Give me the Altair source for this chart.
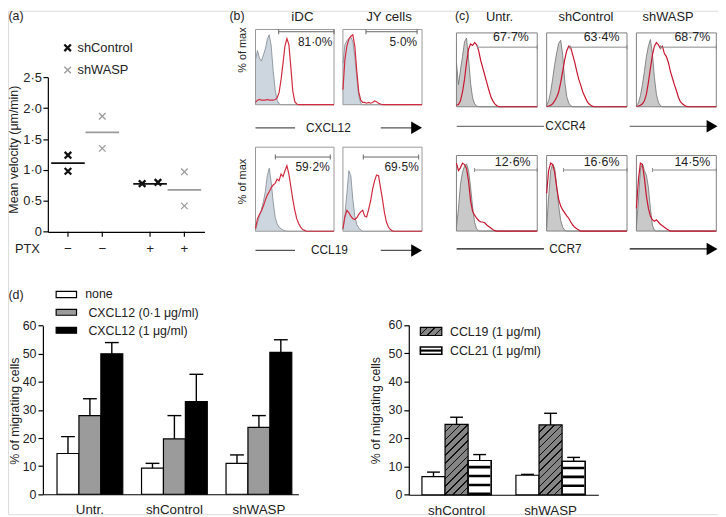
import altair as alt
import pandas as pd

# ------------------------------------------------------------------ data
# (a) mean velocity (um/min) per donor
vel_ptx = ["−", "−", "−", "−", "+", "+", "+", "+"]
vel_line = ["shControl", "shControl", "shWASP", "shWASP",
            "shControl", "shControl", "shWASP", "shWASP"]
vel_rep = [1, 2, 1, 2, 1, 2, 1, 2]
vel_value = [1.24, 0.98, 1.87, 1.35, 0.78, 0.80, 0.97, 0.42]
mean_ptx = ["−", "−", "+", "+"]
mean_line = ["shControl", "shWASP", "shControl", "shWASP"]
mean_value = [1.11, 1.61, 0.775, 0.68]

# (b) flow histograms, fraction of max over 41 channels (isotype, stain)
b_idc_cxcl12_iso = [0.6, 0.72, 0.62, 0.58, 0.66, 0.74, 0.87, 0.93, 0.78, 0.45, 0.2, 0.06, 0.01]
b_idc_cxcl12_stain = [0.03, 0.06, 0.07, 0.06, 0.06, 0.06, 0.07, 0.06, 0.06, 0.06, 0.07, 0.09,
                      0.16, 0.33, 0.55, 0.78, 0.88, 0.8, 0.5, 0.18, 0.04, 0.01]
b_jy_cxcl12_iso = [0.55, 0.8, 0.85, 0.88, 0.9, 0.84, 0.65, 0.36, 0.12, 0.02]
b_jy_cxcl12_stain = [0.2, 0.6, 0.78, 0.87, 0.91, 0.93, 0.78, 0.45, 0.17, 0.06, 0.03, 0.03,
                     0.02, 0.03, 0.02, 0.03, 0.05, 0.04, 0.02, 0.01]
b_idc_ccl19_iso = [0.02, 0.1, 0.18, 0.26, 0.35, 0.47, 0.66, 0.75, 0.58, 0.35, 0.17, 0.09,
                   0.05, 0.03, 0.015, 0.005]
b_idc_ccl19_stain = [0.03, 0.15, 0.2, 0.24, 0.3, 0.37, 0.43, 0.47, 0.52, 0.55, 0.57, 0.62,
                     0.6, 0.68, 0.65, 0.72, 0.78, 0.68, 0.53, 0.38, 0.25, 0.15, 0.09, 0.05,
                     0.02, 0.01]
b_jy_ccl19_iso = [0.02, 0.2, 0.45, 0.72, 0.66, 0.38, 0.18, 0.08, 0.04, 0.015]
b_jy_ccl19_stain = [0.03, 0.17, 0.25, 0.22, 0.18, 0.15, 0.14, 0.16, 0.2, 0.23, 0.25, 0.18,
                    0.17, 0.26, 0.36, 0.5, 0.6, 0.67, 0.66, 0.52, 0.38, 0.22, 0.11, 0.05,
                    0.02, 0.005]
b_pct = ["81·0%", "5·0%", "59·2%", "69·5%"]
b_gate_lo = [11.8, 11.65, 10.1, 10.3]
b_gate_hi = [40, 37.5, 38.1, 38.3]

# (c) flow histograms
c_untr_cxcr4_iso = [0.6, 0.3, 0.5, 0.68, 0.88, 0.93, 0.65, 0.32, 0.12, 0.04, 0.01]
c_untr_cxcr4_stain = [0.02, 0.03, 0.08, 0.2, 0.37, 0.6, 0.78, 0.85, 0.83, 0.87, 0.84, 0.76,
                      0.63, 0.53, 0.43, 0.33, 0.23, 0.14, 0.08, 0.04, 0.015]
c_shc_cxcr4_iso = [0.02, 0.08, 0.2, 0.38, 0.57, 0.73, 0.86, 0.9, 0.7, 0.35, 0.14, 0.05, 0.015]
c_shc_cxcr4_stain = [0.005, 0.01, 0.02, 0.04, 0.08, 0.13, 0.2, 0.33, 0.48, 0.64, 0.76, 0.82,
                     0.8, 0.7, 0.6, 0.48, 0.37, 0.29, 0.2, 0.14, 0.08, 0.04, 0.02, 0.005]
c_shw_cxcr4_iso = [0.02, 0.05, 0.15, 0.3, 0.48, 0.68, 0.82, 0.91, 0.72, 0.4, 0.17, 0.06, 0.015]
c_shw_cxcr4_stain = [0.005, 0.01, 0.02, 0.04, 0.08, 0.17, 0.33, 0.52, 0.7, 0.82, 0.87, 0.84,
                     0.79, 0.82, 0.72, 0.68, 0.6, 0.48, 0.39, 0.3, 0.22, 0.13, 0.07, 0.04,
                     0.02, 0.005]
c_untr_ccr7_iso = [0.05, 0.3, 0.62, 0.78, 0.86, 0.89, 0.8, 0.58, 0.32, 0.11, 0.03]
c_untr_ccr7_stain = [0.9, 0.8, 0.84, 0.9, 0.88, 0.83, 0.66, 0.4, 0.26, 0.21, 0.17, 0.14,
                     0.12, 0.12, 0.11, 0.08, 0.06, 0.04, 0.02, 0.005]
c_shc_ccr7_iso = [0.05, 0.45, 0.8, 0.89, 0.83, 0.6, 0.33, 0.14, 0.05, 0.01]
c_shc_ccr7_stain = [0.5, 0.8, 0.9, 0.88, 0.78, 0.58, 0.42, 0.33, 0.28, 0.24, 0.2, 0.17,
                    0.12, 0.08, 0.05, 0.03, 0.015]
c_shw_ccr7_iso = [0.05, 0.4, 0.82, 0.89, 0.8, 0.74, 0.58, 0.3, 0.08, 0.01]
c_shw_ccr7_stain = [0.3, 0.68, 0.9, 0.88, 0.7, 0.46, 0.3, 0.2, 0.15, 0.13, 0.15, 0.12,
                    0.09, 0.07, 0.05, 0.03, 0.015]
c_pct = ["67·7%", "63·4%", "68·7%", "12·6%", "16·6%", "14·5%"]
c_gate_lo = [10.5, 11.6, 12.1, 8.9, 8.4, 8.0]
c_gate_hi = [40, 40, 40, 40, 40, 40]

# (d) % of migrating cells
mig_group = ["Untr.", "Untr.", "Untr.", "shControl", "shControl", "shControl",
             "shWASP", "shWASP", "shWASP"]
mig_series = ["none", "CXCL12 (0·1 μg/ml)", "CXCL12 (1 μg/ml)"] * 3
mig_value = [14.5, 28.0, 50.0, 9.3, 19.7, 33.0, 11.0, 23.8, 50.5]
mig_upper = [20.5, 34.0, 54.0, 11.0, 28.0, 42.7, 14.0, 28.0, 55.0]
ccl_group = ["shControl"] * 3 + ["shWASP"] * 3
ccl_series = ["none", "CCL19 (1 μg/ml)", "CCL21 (1 μg/ml)"] * 2
ccl_value = [6.4, 24.9, 12.1, 6.9, 24.7, 11.8]
ccl_upper = [8.0, 27.4, 14.2, 7.2, 28.8, 13.2]

# ------------------------------------------------------------------ layout helpers
W, H = 718, 509
FONT = "Liberation Sans"
TXT = "#222222"


def px(x):
    return x - 8


def py(y):
    return (y - 4) * 0.992


def pad(v, n=41):
    return list(v) + [0.0] * (n - len(v))


def one():
    return alt.Data(values=[{"k": 0}])


def text_at(s, x, y, size=12.5, align="center", baseline="middle", angle=None, color=TXT):
    kw = dict(text=s, fontSize=size, align=align, baseline=baseline, color=color, font=FONT)
    if angle is not None:
        kw["angle"] = angle
    return alt.Chart(one()).mark_text(**kw).encode(x=alt.value(x), y=alt.value(y))


def hline(x1, x2, y, color="#555555", width=1.3):
    return alt.Chart(one()).mark_rule(color=color, strokeWidth=width).encode(
        x=alt.value(x1), x2=alt.value(x2), y=alt.value(y))


def rect_at(x1, x2, y1, y2, fill, stroke="black", sw=1.2):
    return alt.Chart(one()).mark_rect(fill=fill, stroke=stroke, strokeWidth=sw).encode(
        x=alt.value(x1), x2=alt.value(x2), y=alt.value(y1), y2=alt.value(y2))


def tri_at(x, y, size=160):
    return alt.Chart(one()).mark_point(shape="triangle-right", filled=True, size=size,
                                       color="black", opacity=1).encode(
        x=alt.value(x), y=alt.value(y))


def hatch_gradient(w, h, n, bg, fg, lw):
    r = h / w
    a = (1 + r) / (1 + r * r)
    b = a * r
    d = lw * 0.72 / (w + h)
    stops = []
    for k in range(n + 1):
        c = k / n
        lo = round(max(0.0, c - d), 4)
        hi = round(min(1.0, c + d), 4)
        stops += [alt.GradientStop(color=bg, offset=lo), alt.GradientStop(color=fg, offset=lo),
                  alt.GradientStop(color=fg, offset=hi), alt.GradientStop(color=bg, offset=hi)]
    return alt.LinearGradient(gradient="linear", stops=stops, x1=0, y1=0,
                              x2=round(a, 4), y2=round(b, 4))


layers = []

# ------------------------------------------------------------------ panel (a)
line_dom = ["shControl", "shWASP"]
A_X0, A_X1 = px(48.3), px(206.7)
A_Y0, A_Y1 = py(229.3), py(71.7)
A_PI, A_PO = 0.164, 0.036
XSHAPE = "M-1,-1L1,1M1,-1L-1,1"
# quarter of a PTX band = distance from the band centre to a cell-line slot centre
a_step = (A_X1 - A_X0) / (2 - A_PI + 2 * A_PO)
a_quarter = a_step * (1 - A_PI) / 4
JIT = 8

vel_df = pd.DataFrame({"ptx": vel_ptx, "line": vel_line, "rep": vel_rep, "v": vel_value})
mean_df = pd.DataFrame({"ptx": mean_ptx, "line": mean_line, "v": mean_value})

a_xscale = alt.Scale(domain=["−", "+"], range=[A_X0, A_X1], paddingInner=A_PI, paddingOuter=A_PO)
a_yscale = alt.Scale(domain=[0, 2.5], range=[A_Y0, A_Y1], nice=False, zero=False)
a_xaxis = alt.Axis(orient="bottom", offset=A_Y0 - H, labels=False, ticks=False, title=None,
                   domainColor="black", domainWidth=1.2, grid=False)
a_yaxis = alt.Axis(orient="left", offset=-A_X0, values=[0, 0.5, 1, 1.5, 2, 2.5],
                   labelExpr="datum.value == 0 ? '0' : replace(format(datum.value, '.1f'), '.', '·')",
                   tickSize=5, tickColor="black", tickWidth=1.2, domainColor="black",
                   domainWidth=1.2, labelPadding=1.5, labelFontSize=13, labelColor=TXT,
                   labelFont=FONT, grid=False, title="Mean velocity (μm/min)",
                   titleFontSize=12.5, titleFontWeight="normal", titleColor=TXT, titleFont=FONT,
                   titleAngle=270, titleX=6 - A_X0, titleY=py(145), titleAlign="center",
                   titleBaseline="middle")
ax = alt.X("ptx:N", scale=a_xscale, axis=a_xaxis)
axo = alt.XOffset("line:N", scale=alt.Scale(domain=line_dom))
ay = alt.Y("v:Q", scale=a_yscale, axis=a_yaxis)
a_color = alt.Color("line:N", scale=alt.Scale(domain=line_dom, range=["#111111", "#9a9a9a"]),
                    legend=None)
a_sw = alt.StrokeWidth("line:N", scale=alt.Scale(domain=line_dom, range=[2.3, 1.3]), legend=None)

a_means = alt.Chart(mean_df).mark_tick(size=34, thickness=1.8, opacity=1).encode(
    x=ax, xOffset=axo, y=ay, color=a_color)
a_pts = alt.Chart(vel_df).transform_filter(
    "!(datum.line == 'shControl' && datum.ptx == '+')").mark_point(
    shape=XSHAPE, size=44, filled=False, opacity=1).encode(
    x=ax, xOffset=axo, y=ay, color=a_color, strokeWidth=a_sw)
# the two overlapping PTX-treated shControl donors are spread sideways (plot jitter)
a_pts1 = alt.Chart(vel_df).transform_filter(
    "datum.line == 'shControl' && datum.ptx == '+' && datum.rep == 1").mark_point(
    shape=XSHAPE, size=44, filled=False, opacity=1, xOffset=-a_quarter - JIT).encode(
    x=ax, y=ay, color=a_color, strokeWidth=a_sw)
a_pts2 = alt.Chart(vel_df).transform_filter(
    "datum.line == 'shControl' && datum.ptx == '+' && datum.rep == 2").mark_point(
    shape=XSHAPE, size=44, filled=False, opacity=1, xOffset=-a_quarter + JIT).encode(
    x=ax, y=ay, color=a_color, strokeWidth=a_sw)
a_ticks = alt.Chart(mean_df).mark_rule(color="black", strokeWidth=1.2).encode(
    x=ax, xOffset=axo, y=alt.value(A_Y0), y2=alt.value(A_Y0 + 5))
a_ptx = alt.Chart(mean_df).mark_text(fontSize=13.5, font=FONT, color=TXT).encode(
    x=ax, xOffset=axo, y=alt.value(py(246.5)), text="ptx:N")
layers.append(alt.layer(a_means, a_pts, a_pts1, a_pts2, a_ticks, a_ptx))

leg_df = pd.DataFrame({"line": line_dom})
leg_y = alt.Y("line:N", scale=alt.Scale(type="point", domain=line_dom,
                                        range=[py(41.7), py(64.3)], padding=0), axis=None)
a_leg_pts = alt.Chart(leg_df).mark_point(shape=XSHAPE, size=44, filled=False, opacity=1).encode(
    x=alt.value(px(68.3)), y=leg_y, color=a_color, strokeWidth=a_sw)
a_leg_txt = alt.Chart(leg_df).mark_text(align="left", fontSize=13, font=FONT, color=TXT).encode(
    x=alt.value(px(78.3)), y=leg_y, text="line:N")
layers.append(alt.layer(a_leg_pts, a_leg_txt))
layers.append(text_at("PTX", px(15), py(246.5), 13, align="left"))
layers.append(text_at("(a)", 0.5, py(13.3), 12.5, align="left", baseline="alphabetic"))

# ------------------------------------------------------------------ histograms (b), (c)
B_STYLE = dict(fill="#cdd6de", edge="#7d8790", red="#d22b3e", box="#9a9a9a", gate="#666666",
               pct_size=12, cap=5)
C_STYLE = dict(fill="#c9c9c9", edge="#6e6e6e", red="#c8152f", box="#808080", gate="#8a8a8a",
               pct_size=12.5, cap=4)


def histogram(iso, stain, box, gate_lo, gate_hi, gate_y, pct, pct_x, pct_y, st):
    L, R, T, B = box
    df = pd.DataFrame({"ch": list(range(41)), "iso": pad(iso), "stain": pad(stain)})
    xs = alt.Scale(domain=[0, 40], range=[px(L), px(R)], nice=False, zero=False)
    ys = alt.Scale(domain=[0, 1], range=[py(B), py(T)], nice=False, zero=False)

    def X(f):
        return alt.X(f, scale=xs, axis=None)

    def Y(f):
        return alt.Y(f, scale=ys, axis=None)

    base = alt.Chart(df)
    area = base.mark_area(fill=st["fill"], interpolate="linear").encode(x=X("ch:Q"), y=Y("iso:Q"))
    edge = base.mark_line(color=st["edge"], strokeWidth=0.8).encode(x=X("ch:Q"), y=Y("iso:Q"))
    red = base.mark_line(color=st["red"], strokeWidth=1.2).encode(x=X("ch:Q"), y=Y("stain:Q"))
    frame = alt.Chart(pd.DataFrame({"x0": [0], "x1": [40], "y0": [0], "y1": [1]})).mark_rect(
        fillOpacity=0, stroke=st["box"], strokeWidth=1).encode(
        x=X("x0:Q"), x2="x1:Q", y=Y("y0:Q"), y2="y1:Q")
    gdf = pd.DataFrame({"lo": [gate_lo], "hi": [gate_hi], "g": [gate_y], "pct": [pct],
                        "tx": [pct_x], "ty": [pct_y]})
    gate = alt.Chart(gdf).mark_rule(color=st["gate"], strokeWidth=1).encode(
        x=X("lo:Q"), x2="hi:Q", y=Y("g:Q"))
    caps = alt.Chart(gdf).transform_fold(["lo", "hi"], as_=["end", "pos"]).mark_tick(
        orient="vertical", size=st["cap"], thickness=1, color=st["gate"], opacity=1).encode(
        x=X("pos:Q"), y=Y("g:Q"))
    label = alt.Chart(gdf).mark_text(align="right", baseline="middle", fontSize=st["pct_size"],
                                     font=FONT, color=TXT).encode(
        x=X("tx:Q"), y=Y("ty:Q"), text="pct:N")
    return alt.layer(area, edge, frame, red, gate, caps, label)


b_boxes = [(258.3, 337.7, 23, 99.7), (346.7, 426.7, 23, 99.7),
           (258.3, 337.7, 143, 228.7), (346.7, 426.7, 143, 228.7)]
b_iso = [b_idc_cxcl12_iso, b_jy_cxcl12_iso, b_idc_ccl19_iso, b_jy_ccl19_iso]
b_stain = [b_idc_cxcl12_stain, b_jy_cxcl12_stain, b_idc_ccl19_stain, b_jy_ccl19_stain]
b_gate_y = [0.97, 0.97, 0.883, 0.883]
b_pct_x = [39.1, 37.5, 37.8, 38.3]
b_pct_y = [0.827, 0.827, 0.758, 0.758]
for i in range(4):
    layers.append(histogram(b_iso[i], b_stain[i], b_boxes[i], b_gate_lo[i], b_gate_hi[i],
                            b_gate_y[i], b_pct[i], b_pct_x[i], b_pct_y[i], B_STYLE))

c_boxes = [(461.5, 543.2, 26.5, 101.8), (552.7, 634, 26.5, 101.8), (643.5, 724.3, 26.5, 101.8),
           (461.5, 543.2, 151.5, 228.5), (552.7, 634, 151.5, 228.5), (643.5, 724.3, 151.5, 228.5)]
c_iso = [c_untr_cxcr4_iso, c_shc_cxcr4_iso, c_shw_cxcr4_iso,
         c_untr_ccr7_iso, c_shc_ccr7_iso, c_shw_ccr7_iso]
c_stain = [c_untr_cxcr4_stain, c_shc_cxcr4_stain, c_shw_cxcr4_stain,
           c_untr_ccr7_stain, c_shc_ccr7_stain, c_shw_ccr7_stain]
c_gate_y = [0.807] * 3 + [0.808] * 3
c_pct_x = [35.8, 36.2, 36.9, 36.7, 36.2, 36.9]
c_pct_y = [0.95] * 3 + [0.916] * 3
for i in range(6):
    layers.append(histogram(c_iso[i], c_stain[i], c_boxes[i], c_gate_lo[i], c_gate_hi[i],
                            c_gate_y[i], c_pct[i], c_pct_x[i], c_pct_y[i], C_STYLE))

# headers of (b) and (c)
layers += [
    text_at("(b)", px(232), py(13.3), 12.5, align="left", baseline="alphabetic"),
    text_at("iDC", px(305.8), py(14), 13.5, baseline="alphabetic"),
    text_at("JY cells", px(393.3), py(14), 13.5, baseline="alphabetic"),
    text_at("(c)", px(460), py(13.3), 12.5, align="left", baseline="alphabetic"),
    text_at("Untr.", px(505), py(14), 13, baseline="alphabetic"),
    text_at("shControl", px(592.5), py(14), 13, baseline="alphabetic"),
    text_at("shWASP", px(675.5), py(14), 13, baseline="alphabetic"),
    text_at("% of max", px(246), py(44), 11, angle=270),
    text_at("% of max", px(246), py(178), 11, angle=270),
]


def arrow_row(label, lx0, lx1, tx, rx0, rx1, tip, y, lc):
    return [hline(px(lx0), px(lx1), py(y), lc, 1.3),
            text_at(label, px(tx), py(y), 12),
            hline(px(rx0), px(rx1), py(y), lc, 1.3),
            tri_at(px(tip) - 5.5, py(y))]


layers += arrow_row("CXCL12", 258.3, 298.3, 332, 385, 418, 426.7, 123.3, "#555555")
layers += arrow_row("CCL19", 258.3, 298.3, 333, 385, 418, 426.7, 248.3, "#555555")
layers += arrow_row("CXCR4", 461.7, 550, 571.7, 636.7, 717, 725.5, 121.7, "#777777")
layers += arrow_row("CCR7", 461.7, 550, 571.7, 636.7, 717, 725.5, 246.7, "#111111")

# ------------------------------------------------------------------ panel (d) left
mig_dom = ["none", "CXCL12 (0·1 μg/ml)", "CXCL12 (1 μg/ml)"]
grp_dom = ["Untr.", "shControl", "shWASP"]
DL_Y0, DL_Y1 = py(496.8), py(325)
mig_df = pd.DataFrame({"group": mig_group, "series": mig_series, "value": mig_value,
                       "upper": mig_upper})


def y_axis(ax_x, title_x, title_y):
    return alt.Axis(orient="left", offset=-ax_x, values=[0, 10, 20, 30, 40, 50, 60],
                    tickSize=5, tickColor="black", tickWidth=1.2, domainColor="black",
                    domainWidth=1.2, labelPadding=2, labelFontSize=12.5, labelColor=TXT,
                    labelFont=FONT, grid=False, title="% of migrating cells",
                    titleFontSize=12.5, titleFontWeight="normal", titleColor=TXT,
                    titleFont=FONT, titleAngle=270, titleX=title_x - ax_x, titleY=title_y,
                    titleAlign="center", titleBaseline="middle")


def x_axis(y0):
    return alt.Axis(orient="bottom", offset=y0 - H, title=None, ticks=False, tickSize=0,
                    labelPadding=8.5, labelFontSize=13.5, labelFont=FONT, labelColor=TXT,
                    labelAngle=0, domainColor="black", domainWidth=1.2, grid=False)


dl_x = alt.X("group:N", scale=alt.Scale(domain=grp_dom, range=[px(43.3), px(301.7)],
                                        paddingInner=0.222, paddingOuter=0.1228, align=0.68),
             axis=x_axis(DL_Y0))
dl_xo = alt.XOffset("series:N", scale=alt.Scale(domain=mig_dom))
dl_ys = alt.Scale(domain=[0, 60], range=[DL_Y0, DL_Y1], nice=False, zero=False)
dl_ax = y_axis(px(43.3), 6.5, py(411.7))

dl_bars = alt.Chart(mig_df).mark_bar(stroke="black", strokeWidth=1.2).encode(
    x=dl_x, xOffset=dl_xo, y=alt.Y("value:Q", scale=dl_ys, axis=dl_ax),
    fill=alt.Fill("series:N", scale=alt.Scale(domain=mig_dom,
                                              range=["white", "#9b9b9b", "black"]), legend=None))
dl_err = alt.Chart(mig_df).mark_rule(color="black", strokeWidth=1.4).encode(
    x=dl_x, xOffset=dl_xo, y=alt.Y("value:Q", scale=dl_ys, axis=dl_ax), y2="upper:Q")
dl_cap = alt.Chart(mig_df).mark_tick(color="black", size=14, thickness=1.4, opacity=1).encode(
    x=dl_x, xOffset=dl_xo, y=alt.Y("upper:Q", scale=dl_ys, axis=dl_ax))
layers.append(alt.layer(dl_bars, dl_err, dl_cap))

layers += [
    text_at("(d)", 0.5, py(293.3), 12.5, align="left"),
    rect_at(px(56.7), px(77.3), py(290), py(296.3), "white"),
    rect_at(px(56.7), px(77.3), py(308.3), py(314.3), "#9b9b9b"),
    rect_at(px(56.7), px(77.3), py(326.7), py(332.7), "black"),
    text_at("none", px(86), py(293), 12.5, align="left"),
    text_at("CXCL12 (0·1 μg/ml)", px(89.3), py(311.7), 12.5, align="left"),
    text_at("CXCL12 (1 μg/ml)", px(89.3), py(330), 12.5, align="left"),
]

# ------------------------------------------------------------------ panel (d) right
ccl_dom = ["none", "CCL19 (1 μg/ml)", "CCL21 (1 μg/ml)"]
DR_Y0, DR_Y1 = py(497.3), py(324.3)
ccl_df = pd.DataFrame({"group": ccl_group, "series": ccl_series, "value": ccl_value,
                       "upper": ccl_upper})
dr_x = alt.X("group:N", scale=alt.Scale(domain=["shControl", "shWASP"],
                                        range=[px(413.3), px(605)],
                                        paddingInner=0.263, paddingOuter=0.14),
             axis=x_axis(DR_Y0))
dr_xo = alt.XOffset("series:N", scale=alt.Scale(domain=ccl_dom))
dr_ys = alt.Scale(domain=[0, 60], range=[DR_Y0, DR_Y1], nice=False, zero=False)
dr_ax = y_axis(px(413.3), px(380), py(411))
dr_y = alt.Y("value:Q", scale=dr_ys, axis=dr_ax)

bar_w = 23.35
HATCH = hatch_gradient(bar_w, 24.8 * (DR_Y0 - DR_Y1) / 60, 12, "#858585", "#111111", 1.1)
HATCH_SMALL = hatch_gradient(21.7, 8.2, 4, "#858585", "#111111", 1.1)

dr_none = alt.Chart(ccl_df).transform_filter("datum.series == 'none'").mark_bar(
    fill="white", stroke="black", strokeWidth=1.2).encode(x=dr_x, xOffset=dr_xo, y=dr_y)
dr_hatch = alt.Chart(ccl_df).transform_filter("indexof(datum.series, 'CCL19') == 0").mark_bar(
    fill=HATCH, stroke="black", strokeWidth=1.2).encode(x=dr_x, xOffset=dr_xo, y=dr_y)
dr_sbg = alt.Chart(ccl_df).transform_filter("indexof(datum.series, 'CCL21') == 0").mark_bar(
    fill="white", stroke="black", strokeWidth=1.2).encode(x=dr_x, xOffset=dr_xo, y=dr_y)
dr_stripes = alt.Chart(ccl_df).transform_filter("indexof(datum.series, 'CCL21') == 0").mark_rule(
    color="black", strokeWidth=21.5, strokeDash=[2.6, 6.4], strokeDashOffset=3.6).encode(
    x=dr_x, xOffset=dr_xo, y=dr_y, y2=alt.datum(0))
dr_sout = alt.Chart(ccl_df).transform_filter("indexof(datum.series, 'CCL21') == 0").mark_bar(
    fillOpacity=0, stroke="black", strokeWidth=1.2).encode(x=dr_x, xOffset=dr_xo, y=dr_y)
dr_err = alt.Chart(ccl_df).mark_rule(color="black", strokeWidth=1.4).encode(
    x=dr_x, xOffset=dr_xo, y=dr_y, y2="upper:Q")
dr_cap = alt.Chart(ccl_df).mark_tick(color="black", size=13, thickness=1.4, opacity=1).encode(
    x=dr_x, xOffset=dr_xo, y=alt.Y("upper:Q", scale=dr_ys, axis=dr_ax))
layers.append(alt.layer(dr_none, dr_hatch, dr_sbg, dr_stripes, dr_sout, dr_err, dr_cap))

layers += [
    rect_at(px(425), px(446.7), py(326.7), py(335), HATCH_SMALL),
    rect_at(px(425), px(446.7), py(346.7), py(354), "white", sw=1.6),
    hline(px(425), px(446.7), (py(346.7) + py(354)) / 2, "black", 2.2),
    text_at("CCL19 (1 μg/ml)", px(455), py(331), 12.5, align="left"),
    text_at("CCL21 (1 μg/ml)", px(455), py(350.7), 12.5, align="left"),
]

# ------------------------------------------------------------------ assemble
chart = alt.layer(*layers).resolve_scale(
    x="independent", y="independent", xOffset="independent", color="independent",
    fill="independent", strokeWidth="independent"
).properties(
    width=W, height=H, padding=0, autosize=alt.AutoSizeParams(type="none")
).configure_view(stroke=None).configure(font=FONT)

chart.save("out.html", embed_options={"renderer": "svg", "actions": False})
